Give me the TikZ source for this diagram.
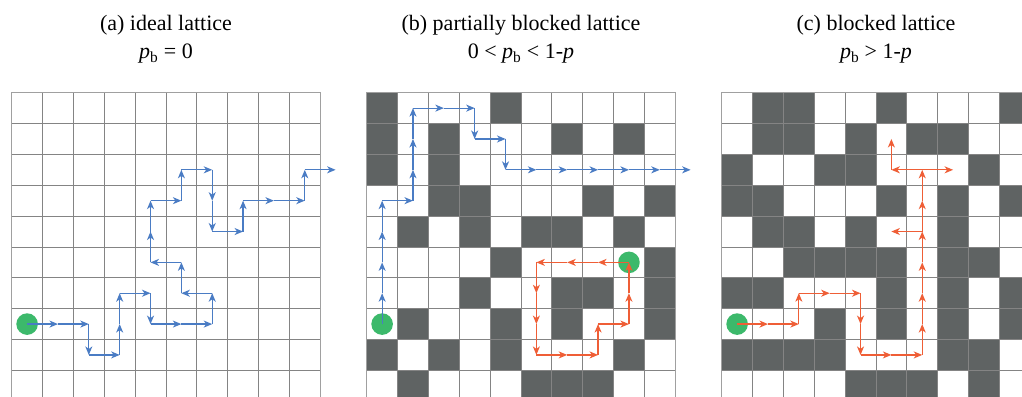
\documentclass[tikz,border=0pt]{standalone}
\usepackage{fontspec}
\setmainfont{Liberation Serif}
\newfontfamily\captionserif{Liberation Serif}
\usetikzlibrary{arrows.meta}
\definecolor{cellgray}{HTML}{5F6363}
\definecolor{gridgray}{HTML}{848484}
\definecolor{bordergray}{HTML}{A0A0A0}
\definecolor{pathblue}{HTML}{4A7CC4}
\definecolor{pathorange}{HTML}{EF5E36}
\definecolor{dotgreen}{HTML}{3CB96B}
\begin{document}
\begin{tikzpicture}[x=1pt,y=-1pt,
  blocked/.style={fill=cellgray, draw=none},
  gridline/.style={draw=gridgray, line width=0.9pt},
  gridborder/.style={draw=bordergray, line width=0.9pt},
  walk/.style={line width=1.2pt, -{Stealth[length=8.5pt,width=7pt,inset=2.5pt]}},
  walkblue/.style={walk, draw=pathblue, fill=pathblue},
  walkorange/.style={walk, draw=pathorange, fill=pathorange},
  startdot/.style={circle, fill=dotgreen, draw=none, minimum size=21.6pt, inner sep=0pt},
  paneltitle/.style={font=\captionserif\fontsize{22}{26}\selectfont, anchor=base, inner sep=0pt}]
\useasboundingbox[fill=white] (0,0) rectangle (1022,396);
\def\cs{30.85}
\def\ytop{92.7}
% cell-centre coordinates
\foreach \p/\xo in {a/11.7, b/366.7, c/721.7}{
  \foreach \i in {0,...,10}{
    \foreach \j in {0,...,9}{
      \coordinate (\p-\i-\j) at ({\xo+(\i+0.5)*\cs},{\ytop+(\j+0.5)*\cs});
    }
  }
}
% blocked cells (b)
\foreach \i/\j in {0/0,4/0, 0/1,2/1,6/1,8/1, 0/2,2/2, 2/3,3/3,7/3,9/3,
  1/4,3/4,5/4,6/4,8/4, 4/5,9/5, 3/6,6/6,7/6,9/6, 1/7,4/7,6/7,9/7,
  0/8,2/8,4/8,8/8, 1/9,5/9,6/9,7/9}
  \fill[blocked] ({366.7+\i*\cs},{\ytop+\j*\cs}) rectangle ++(\cs,\cs);
% blocked cells (c)
\foreach \i/\j in {1/0,2/0,5/0,9/0, 1/1,2/1,4/1,6/1,7/1, 0/2,3/2,4/2,8/2,
  0/3,1/3,5/3,7/3,9/3, 1/4,2/4,4/4,7/4, 2/5,3/5,4/5,5/5,7/5,8/5,
  0/6,1/6,5/6,7/6,9/6, 3/7,5/7,7/7,9/7, 0/8,1/8,2/8,3/8,7/8,8/8,
  4/9,5/9,6/9,8/9}
  \fill[blocked] ({721.7+\i*\cs},{\ytop+\j*\cs}) rectangle ++(\cs,\cs);
% grids
\foreach \xo in {11.7, 366.7, 721.7}{
  \foreach \k in {1,...,9}{
    \draw[gridline] ({\xo+\k*\cs},\ytop) -- ++(0,{10*\cs});
    \draw[gridline] (\xo,{\ytop+\k*\cs}) -- ++({10*\cs},0);
  }
  \draw[gridborder] (\xo,{\ytop+10*\cs}) -- (\xo,\ytop) -- ({\xo+10*\cs},\ytop) -- ({\xo+10*\cs},{\ytop+10*\cs});
}
% titles
\node[paneltitle] (ta1) at (166,31) {(a) ideal lattice};
\node[paneltitle] (ta2) at (166,59) {\textit{p}\textsubscript{b} = 0};
\node[paneltitle] (tb1) at (521,31) {(b) partially blocked lattice};
\node[paneltitle] (tb2) at (521,59) {0 < \textit{p}\textsubscript{b} < 1-\textit{p}};
\node[paneltitle] (tc1) at (876,31) {(c) blocked lattice};
\node[paneltitle] (tc2) at (876,59) {\textit{p}\textsubscript{b} > 1-\textit{p}};
% start dots
\node[startdot] (da) at (a-0-7) {};
\node[startdot] (db1) at (b-0-7) {};
\node[startdot] (db2) at (b-8-5) {};
\node[startdot] (dc) at (c-0-7) {};
% walk (a)
\foreach \s [remember=\s as \r (initially 0-7)] in {1-7,2-7,2-8,3-8,3-7,3-6,4-6,4-7,5-7,6-7,6-6,5-6,5-5,4-5,4-4,4-3,5-3,5-2,6-2,6-3,6-4,7-4,7-3,8-3,9-3,9-2,10-2}
  \draw[walkblue] (a-\r) -- (a-\s);
% walks (b)
\foreach \s [remember=\s as \r (initially 0-7)] in {0-6,0-5,0-4,0-3,1-3,1-2,1-1,1-0,2-0,3-0,3-1,4-1,4-2,5-2,6-2,7-2,8-2,9-2,10-2}
  \draw[walkblue] (b-\r) -- (b-\s);
\foreach \s [remember=\s as \r (initially 8-5)] in {7-5,6-5,5-5,5-6,5-7,5-8,6-8,7-8,7-7,8-7,8-6,8-5}
  \draw[walkorange] (b-\r) -- (b-\s);
% walks (c)
\foreach \s [remember=\s as \r (initially 0-7)] in {1-7,2-7,2-6,3-6,4-6,4-7,4-8,5-8,6-8,6-7,6-6,6-5,6-4,6-3,6-2,7-2}
  \draw[walkorange] (c-\r) -- (c-\s);
\draw[walkorange] (c-6-2) -- (c-5-2);
\draw[walkorange] (c-5-2) -- (c-5-1);
\draw[walkorange] (c-6-4) -- (c-5-4);
\end{tikzpicture}
\end{document}
